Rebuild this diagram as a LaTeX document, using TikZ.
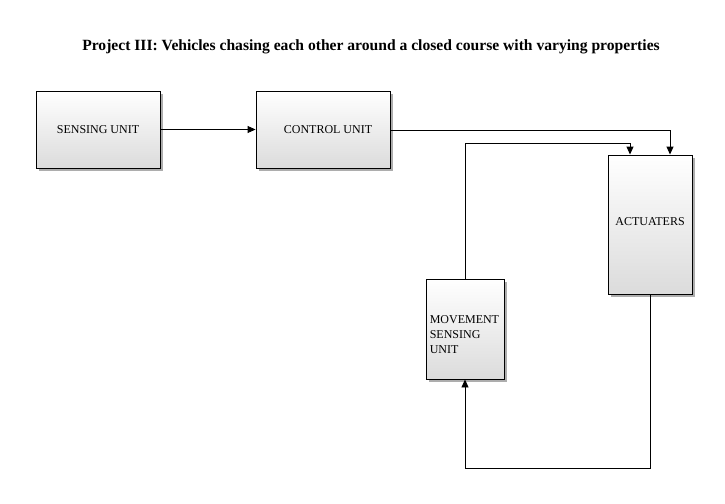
\documentclass[tikz,border=0pt]{standalone}
\usepackage{fontspec}
\setmainfont{Liberation Serif}
\usetikzlibrary{arrows.meta,shadows}
\begin{document}
\begin{tikzpicture}[x=1pt,y=-1pt,
  blockbox/.style={draw=black, line width=0.9pt, top color=white, bottom color=gray!28,
    drop shadow={shadow xshift=2.5pt, shadow yshift=-2.5pt, fill=gray!80, opacity=0.8},
    inner sep=0pt, font=\fontsize{12}{14}\selectfont},
  conn/.style={line width=0.9pt, -{Triangle[length=8pt,width=7pt]}}]
\useasboundingbox (0,0) rectangle (725,503);
\node[font=\bfseries\fontsize{15.6}{17}\selectfont] (title) at (371,47) {Project III: Vehicles chasing each other around a closed course with varying properties};
\node[blockbox, minimum width=124pt, minimum height=77pt] (sense) at (98,129.5) {SENSING UNIT};
\node[blockbox, minimum width=134pt, minimum height=77pt] (ctrl) at (323,129.5) {\hspace*{10pt}CONTROL UNIT};
\node[blockbox, minimum width=84pt, minimum height=139pt] (act) at (650,224.5) {\raisebox{6pt}{ACTUATERS}};
\node[blockbox, minimum width=78pt, minimum height=100pt] (move) at (465,329) {};
\node[anchor=west, align=left, inner sep=0pt, font=\fontsize{12}{15}\selectfont] (movetext) at ([xshift=4pt,yshift=-6pt]move.west) {MOVEMENT\\SENSING\\UNIT};
\coordinate (c1) at (670,130);
\coordinate (c2) at (465,143);
\coordinate (c3) at (630,143);
\coordinate (c4) at (650,468);
\coordinate (c5) at (465,468);
\draw[conn] (sense.east) -- (ctrl.west);
\draw[conn] (ctrl.east |- c1) -| (act.north -| c1);
\draw[conn] (move.north) |- (c3) -- (act.north -| c3);
\draw[conn] (act.south -| c4) |- (c5) -- (move.south);
\end{tikzpicture}
\end{document}
